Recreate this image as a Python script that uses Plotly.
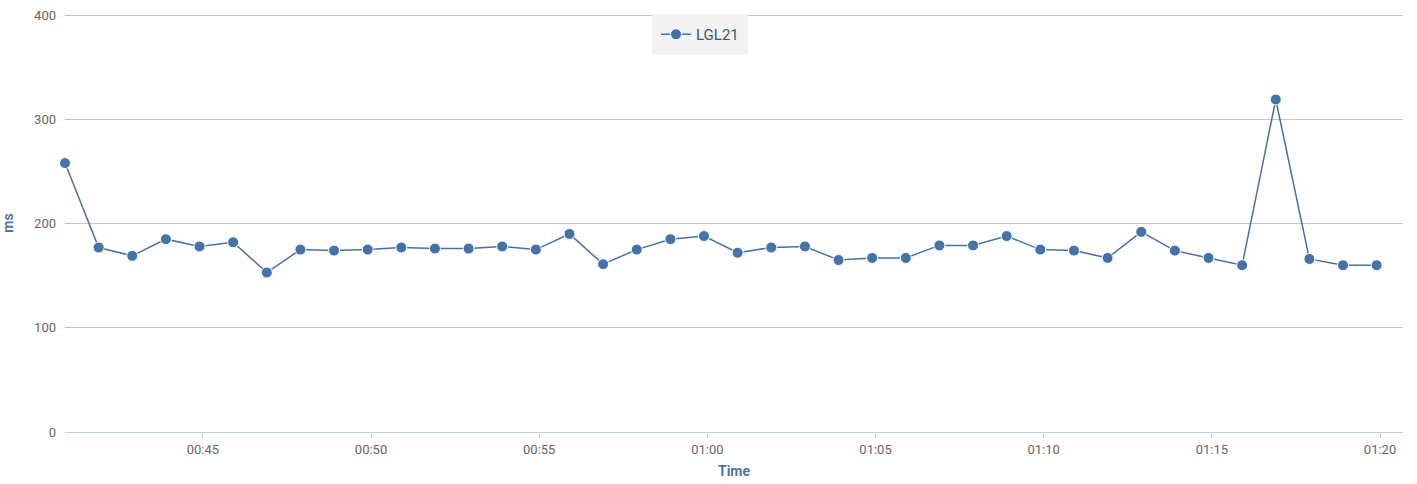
import plotly.graph_objects as go
import pandas as pd

times = pd.date_range("2024-01-01 00:40:54", periods=40, freq="1min")
values = [258, 177, 169, 185, 178, 182, 153, 175, 174, 175,
          177, 176, 176, 178, 175, 190, 161, 175, 185, 188,
          172, 177, 178, 165, 167, 167, 179, 179, 188, 175,
          174, 167, 192, 174, 167, 160, 319, 166, 160, 160]
series_name = "LGL21"
x_ticks = pd.date_range("2024-01-01 00:45:00", "2024-01-01 01:20:00", freq="5min")
x_ticklabels = [t.strftime("%H:%M") for t in x_ticks]
y_ticks = [0, 100, 200, 300, 400]

FONT = "Roboto, sans-serif"
COLOR = "#4572A7"

fig = go.Figure()
fig.add_trace(go.Scatter(
    x=times, y=values, name=series_name, mode="lines+markers",
    line=dict(color=COLOR, width=1.5),
    marker=dict(color=COLOR, size=11, line=dict(color="white", width=1)),
    cliponaxis=False,
))

fig.update_layout(
    width=1417, height=484,
    margin=dict(l=65, r=14, t=14, b=52),
    paper_bgcolor="white", plot_bgcolor="white",
    font=dict(family=FONT, size=13, color="#666666"),
    showlegend=True,
    legend=dict(
        orientation="h", x=0.4746, xanchor="center", y=1.0, yanchor="top",
        bgcolor="#f2f2f2", bordercolor="#f2f2f2", borderwidth=4,
        font=dict(size=15, color="#3e576f", family=FONT),
        itemwidth=30,
    ),
    xaxis=dict(
        range=[pd.Timestamp("2024-01-01 00:40:54"), pd.Timestamp("2024-01-01 01:20:41")],
        tickvals=x_ticks, ticktext=x_ticklabels,
        showgrid=False, showline=True, linecolor="#c0d0e0", linewidth=1,
        ticks="outside", ticklen=5, tickcolor="#c0d0e0",
        title=dict(text="<b>Time</b>", font=dict(size=14, color="#4d759e", family=FONT), standoff=10),
        zeroline=False, automargin=False,
    ),
    yaxis=dict(
        range=[0, 401], tickvals=y_ticks,
        showgrid=True, gridcolor="#c6c6c6", gridwidth=1,
        showline=False, zeroline=False, ticks="", ticklabelstandoff=8,
        title=dict(text="<b>ms</b>", font=dict(size=14, color="#4d759e", family=FONT), standoff=22),
        automargin=False,
    ),
)

fig.write_html("out.html", config={"displayModeBar": False})

with open("out.html", "r", encoding="utf-8") as f:
    html = f.read()
html = html.replace("<head>", "<head><style>html,body{margin:0;padding:0;overflow:hidden;}</style>", 1)
with open("out.html", "w", encoding="utf-8") as f:
    f.write(html)
